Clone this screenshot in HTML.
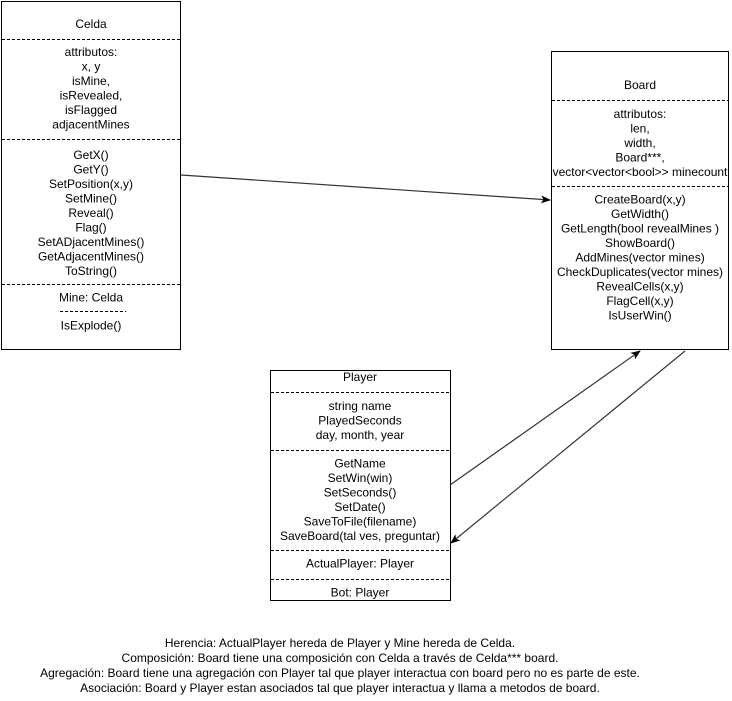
<!DOCTYPE html>
<html><head><meta charset="utf-8"><style>
html,body{margin:0;padding:0;background:#fff;}
svg{display:block;}
text{font-family:"Liberation Sans",Arial,sans-serif;font-size:12px;fill:#000;text-anchor:middle;}
</style></head><body>
<svg width="732" height="701" viewBox="0 0 732 701" xmlns="http://www.w3.org/2000/svg">
<defs>
<marker id="ah" markerWidth="10" markerHeight="8" refX="9" refY="4" orient="auto" markerUnits="userSpaceOnUse">
<path d="M0,0 L10,4 L0,8 L2.5,4 Z" fill="#000"/>
</marker>
</defs>
<g fill="none" stroke="#000" stroke-width="1">
<rect x="1.5" y="1.5" width="179" height="348"/>
<rect x="551.5" y="51.5" width="177" height="298"/>
<rect x="270.5" y="370.5" width="180" height="230"/>
</g>
<g stroke="#000" stroke-width="1" stroke-dasharray="3 2">
<line x1="2" y1="39.5" x2="180" y2="39.5"/>
<line x1="2" y1="139.5" x2="180" y2="139.5"/>
<line x1="2" y1="284.5" x2="180" y2="284.5"/>
<line x1="60" y1="311.5" x2="126" y2="311.5"/>
<line x1="552" y1="100.5" x2="728" y2="100.5"/>
<line x1="552" y1="186.5" x2="728" y2="186.5"/>
<line x1="271" y1="392.5" x2="450" y2="392.5"/>
<line x1="271" y1="450.5" x2="450" y2="450.5"/>
<line x1="271" y1="550.5" x2="450" y2="550.5"/>
<line x1="271" y1="579.5" x2="450" y2="579.5"/>
</g>
<g stroke="#333" stroke-width="1.2" fill="none">
<line x1="181" y1="175" x2="550" y2="200" marker-end="url(#ah)"/>
<line x1="450" y1="485" x2="640" y2="351" marker-end="url(#ah)"/>
<line x1="685" y1="351" x2="451" y2="543" marker-end="url(#ah)"/>
</g>
<g>
<text x="91" y="28">Celda</text>
<text x="91" y="56">attributos:</text>
<text x="91" y="70.5">x, y</text>
<text x="91" y="85">isMine,</text>
<text x="91" y="99.5">isRevealed,</text>
<text x="91" y="114">isFlagged</text>
<text x="91" y="128.5">adjacentMines</text>
<text x="91" y="159">GetX()</text>
<text x="91" y="173.5">GetY()</text>
<text x="91" y="188">SetPosition(x,y)</text>
<text x="91" y="202.5">SetMine()</text>
<text x="91" y="217">Reveal()</text>
<text x="91" y="231.5">Flag()</text>
<text x="91" y="246">SetADjacentMines()</text>
<text x="91" y="260.5">GetAdjacentMines()</text>
<text x="91" y="275">ToString()</text>
<text x="91" y="301.5">Mine: Celda</text>
<text x="91" y="329.5">IsExplode()</text>

<text x="640" y="89">Board</text>
<text x="640" y="118">attributos:</text>
<text x="640" y="132.5">len,</text>
<text x="640" y="147">width,</text>
<text x="640" y="161.5">Board***,</text>
<text x="640" y="176">vector&lt;vector&lt;bool&gt;&gt; minecount</text>
<text x="640" y="203.5">CreateBoard(x,y)</text>
<text x="640" y="218">GetWidth()</text>
<text x="640" y="232.5">GetLength(bool revealMines )</text>
<text x="640" y="247">ShowBoard()</text>
<text x="640" y="261.5">AddMines(vector mines)</text>
<text x="640" y="276">CheckDuplicates(vector mines)</text>
<text x="640" y="290.5">RevealCells(x,y)</text>
<text x="640" y="305">FlagCell(x,y)</text>
<text x="640" y="319.5">IsUserWin()</text>

<text x="360" y="381">Player</text>
<text x="360" y="410">string name</text>
<text x="360" y="424.5">PlayedSeconds</text>
<text x="360" y="439">day, month, year</text>
<text x="360" y="467.5">GetName</text>
<text x="360" y="482">SetWin(win)</text>
<text x="360" y="496.5">SetSeconds()</text>
<text x="360" y="511">SetDate()</text>
<text x="360" y="525.5">SaveToFile(filename)</text>
<text x="360" y="540">SaveBoard(tal ves, preguntar)</text>
<text x="360" y="567.5">ActualPlayer: Player</text>
<text x="360" y="596.5">Bot: Player</text>

<text x="340" y="647">Herencia: ActualPlayer hereda de Player y Mine hereda de Celda.</text>
<text x="340" y="662">Composición: Board tiene una composición con Celda a través de Celda*** board.</text>
<text x="340" y="677">Agregación: Board tiene una agregación con Player tal que player interactua con board pero no es parte de este.</text>
<text x="340" y="692">Asociación: Board y Player estan asociados tal que player interactua y llama a metodos de board.</text>
</g>
</svg>
</body></html>
